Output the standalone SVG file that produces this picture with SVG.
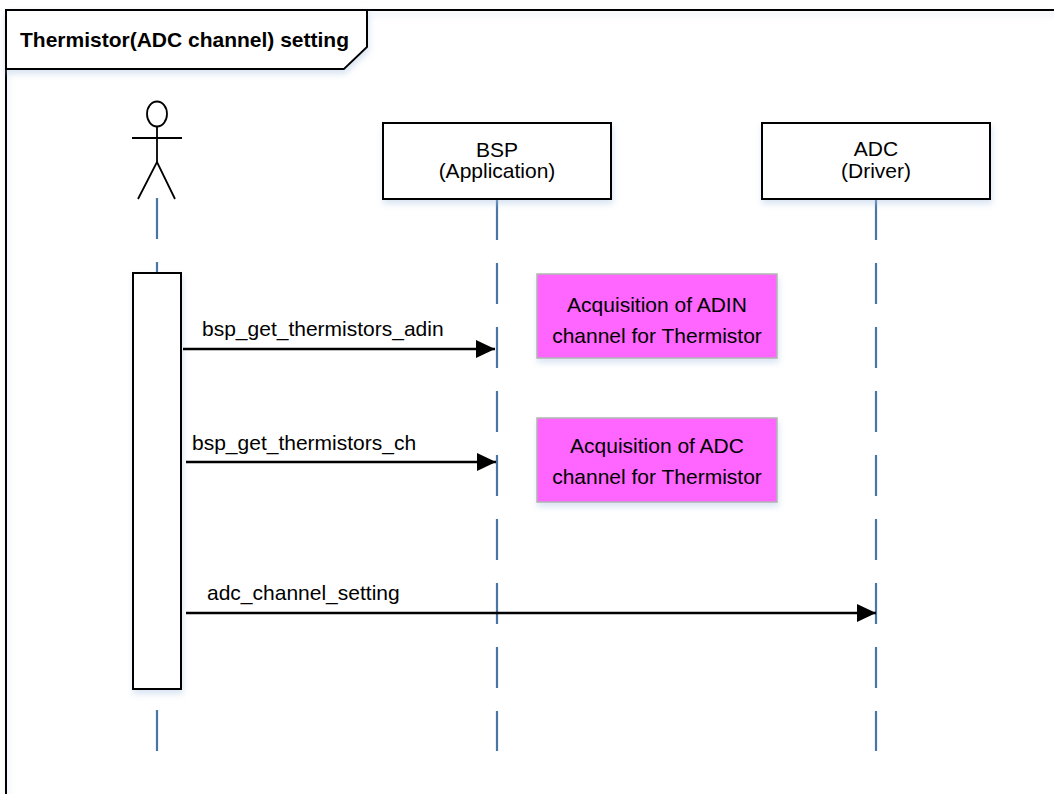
<svg xmlns="http://www.w3.org/2000/svg" width="1054" height="794" viewBox="0 0 1054 794">
<style>
  .frame{fill:none;stroke:#000;stroke-width:2}
  .box{fill:#fff;stroke:#000;stroke-width:2}
  .note{fill:#ff66ff;stroke:#b4b4b4;stroke-width:1.5}
  .life{stroke:#4a76a6;stroke-width:2.2;stroke-dasharray:41 23;fill:none}
  .msg{stroke:#000;stroke-width:2.5;fill:none}
  .t{font-family:"Liberation Sans",Arial,sans-serif;font-size:21px;fill:#000}
  .c{text-anchor:middle}
  .b{font-weight:bold}
  .actor{fill:#fff;stroke:#000;stroke-width:1.8}
</style>
<defs>
  <filter id="sh" x="-10%" y="-10%" width="130%" height="140%">
    <feDropShadow dx="1" dy="4" stdDeviation="3" flood-color="#a9c3e3" flood-opacity="0.45"/>
  </filter>
  <marker id="arr" markerWidth="20" markerHeight="18" refX="19" refY="9" orient="auto" markerUnits="userSpaceOnUse">
    <path d="M0,0 L19,9 L0,18 Z" fill="#000"/>
  </marker>
</defs>
<rect width="1054" height="794" fill="#fff"/>
<g id="frame">
  <rect x="6" y="10" width="1070" height="810" class="frame" filter="url(#sh)"/>
  <path d="M6,10 H367 V47 L344,69 H6 Z" fill="#fff" stroke="#000" stroke-width="2" filter="url(#sh)"/>
  <text x="20" y="47" class="t b">Thermistor(ADC channel) setting</text>
</g>
<g id="lifelines">
  <line x1="157" y1="198" x2="157" y2="751" class="life"/>
  <line x1="497" y1="199" x2="497" y2="751" class="life"/>
  <line x1="876" y1="199" x2="876" y2="751" class="life"/>
</g>
<g id="actor">
  <ellipse cx="157" cy="114" rx="10" ry="12.5" class="actor"/>
  <line x1="157" y1="126.5" x2="157" y2="162" stroke="#000" stroke-width="1.8"/>
  <line x1="132" y1="138" x2="182" y2="138" stroke="#000" stroke-width="1.8"/>
  <polyline points="138,199 157,162 175,199" fill="none" stroke="#000" stroke-width="1.8"/>
</g>
<g id="bsp">
  <rect x="383" y="123" width="228" height="76" class="box" filter="url(#sh)"/>
  <text x="497" y="157" class="t c">BSP</text>
  <text x="497" y="178" class="t c">(Application)</text>
</g>
<g id="adc">
  <rect x="762" y="123" width="228" height="76" class="box" filter="url(#sh)"/>
  <text x="876" y="156" class="t c">ADC</text>
  <text x="876" y="178" class="t c">(Driver)</text>
</g>
<g id="activation">
  <rect x="133" y="273" width="48" height="416" class="box" filter="url(#sh)"/>
</g>
<g id="note1">
  <rect x="537" y="274" width="240" height="84" class="note" filter="url(#sh)"/>
  <text x="657" y="312" class="t c">Acquisition of ADIN</text>
  <text x="657" y="343" class="t c">channel for Thermistor</text>
</g>
<g id="note2">
  <rect x="537" y="418" width="240" height="84" class="note" filter="url(#sh)"/>
  <text x="657" y="453" class="t c">Acquisition of ADC</text>
  <text x="657" y="484" class="t c">channel for Thermistor</text>
</g>
<g id="connectors">
  <line x1="183" y1="349" x2="495" y2="349" class="msg" marker-end="url(#arr)"/>
  <text x="202" y="336" class="t">bsp_get_thermistors_adin</text>
  <line x1="186" y1="462" x2="496" y2="462" class="msg" marker-end="url(#arr)"/>
  <text x="192" y="450" class="t">bsp_get_thermistors_ch</text>
  <line x1="186" y1="613" x2="876" y2="613" class="msg" marker-end="url(#arr)"/>
  <text x="207" y="600" class="t">adc_channel_setting</text>
</g>
</svg>
